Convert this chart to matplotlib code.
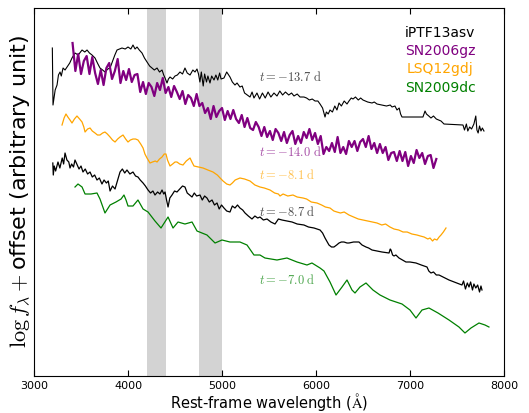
import numpy as np
import matplotlib
matplotlib.use("Agg")
import matplotlib.pyplot as plt

plt.rcParams['mathtext.fontset'] = 'cm'

# iPTF13asv, t = -13.7 d (top black)
w_a1 = [3195, 3202, 3225, 3245, 3260, 3277, 3290, 3309, 3330, 3351, 3380, 3404, 3436, 3470, 3511, 3540,
        3564, 3590, 3617, 3649, 3680, 3702, 3730, 3755, 3785, 3809, 3840, 3860, 3883, 3910, 3936, 3970,
        4000, 4030, 4053, 4075, 4096, 4120, 4149, 4175, 4202, 4230, 4255, 4280, 4309, 4335, 4362, 4380,
        4394, 4415, 4430, 4447, 4475, 4500, 4525, 4553, 4580, 4606, 4630, 4660, 4690, 4713, 4734, 4750,
        4765, 4780, 4800, 4815, 4835, 4850, 4872, 4890, 4915, 4935, 4955, 4975, 4990, 5021, 5050, 5085,
        5110, 5138, 5160, 5191, 5215, 5240, 5270, 5298, 5320, 5340, 5372, 5400, 5430, 5460, 5490, 5520,
        5553, 5585, 5615, 5645, 5675, 5710, 5740, 5766, 5800, 5830, 5872, 5900, 5930, 5960, 5990, 6020,
        6043, 6070, 6096, 6110, 6130, 6149, 6175, 6200, 6223, 6245, 6270, 6300, 6330, 6351, 6375, 6394,
        6420, 6450, 6475, 6500, 6550, 6596, 6620, 6649, 6702, 6750, 6790, 6809, 6840, 6862, 6885, 6900,
        6915, 7138, 7160, 7175, 7200, 7223, 7250, 7280, 7330, 7362, 7564, 7580, 7600, 7615, 7635, 7655,
        7680, 7700, 7712, 7725, 7740, 7755, 7770, 7787]
f_a1 = [328, 271, 286, 291, 301, 304, 300, 308, 306, 309, 313, 318, 323, 321, 326, 324,
        326, 323, 321, 318, 312, 308, 306, 304, 307, 308, 316, 321, 326, 327, 328, 327,
        329, 327, 331, 327, 329, 326, 323, 318, 314, 310, 308, 306, 308, 304, 306, 301,
        298, 293, 297, 299, 297, 300, 301, 304, 302, 308, 303, 301, 306, 304, 307, 302,
        294, 304, 290, 302, 294, 300, 293, 300, 296, 301, 296, 303, 297, 298, 304, 299,
        294, 291, 293, 289, 290, 283, 281, 279, 284, 278, 283, 277, 283, 278, 284, 279,
        283, 280, 285, 281, 284, 281, 283, 280, 282, 279, 279, 278, 276, 277, 275, 275,
        272, 268, 259, 264, 262, 266, 264, 270, 266, 273, 270, 275, 272, 275, 278, 277,
        279, 276, 278, 276, 274, 273, 274, 272, 271, 270, 271, 269, 270, 266, 268, 262,
        259, 259, 265, 262, 260, 258, 260, 257, 255, 252, 251, 246, 252, 245, 249, 247,
        252, 260, 246, 243, 250, 245, 248, 245]

# SN2006gz, t = -14.0 d (purple, noisy) sampled every 30 A from 3410 A
w_gz = np.arange(3410, 7281, 30)
f_gz = [333, 305, 322, 302, 315, 320, 302, 319, 303, 292,
        306, 291, 308, 313, 297, 305, 317, 293, 305, 296,
        307, 294, 301, 302, 284, 294, 282, 293, 289, 280,
        293, 286, 298, 283, 289, 279, 290, 284, 277, 285,
        272, 281, 278, 270, 282, 270, 273, 263, 268, 257,
        270, 259, 265, 268, 256, 265, 257, 266, 257, 253,
        261, 249, 258, 248, 246, 254, 249, 240, 249, 239,
        245, 236, 247, 243, 235, 244, 233, 241, 245, 232,
        240, 233, 244, 238, 247, 236, 243, 232, 240, 222,
        229, 225, 233, 224, 239, 223, 229, 222, 235, 229,
        235, 225, 234, 237, 229, 240, 227, 233, 223, 232,
        223, 229, 216, 223, 224, 215, 225, 215, 224, 210,
        220, 213, 226, 218, 223, 212, 220, 221, 208, 217]

# LSQ12gdj, t = -8.1 d (orange)
w_lsq = [3298, 3320, 3340, 3360, 3383, 3404, 3430, 3457, 3485, 3511, 3530, 3543, 3570, 3596, 3620, 3649,
         3675, 3702, 3730, 3755, 3780, 3809, 3835, 3862, 3890, 3915, 3947, 3975, 4000, 4025, 4053, 4080,
         4106, 4135, 4160, 4180, 4202, 4234, 4260, 4290, 4309, 4335, 4362, 4385, 4404, 4420, 4447, 4475,
         4500, 4521, 4550, 4585, 4620, 4660, 4680, 4702, 4750, 4798, 4850, 4904, 4950, 4980, 5011, 5050,
         5085, 5110, 5140, 5191, 5240, 5298, 5350, 5404, 5450, 5511, 5560, 5600, 5617, 5650, 5700, 5755,
         5800, 5862, 5900, 5950, 6011, 6060, 6100, 6149, 6190, 6223, 6260, 6300, 6351, 6400, 6450, 6500,
         6550, 6600, 6649, 6700, 6740, 6787, 6830, 6880, 6926, 6970, 7020, 7074, 7110, 7150, 7190, 7213,
         7240, 7260, 7287, 7310, 7330, 7355, 7383]
f_lsq = [251, 258, 262, 259, 256, 253, 257, 260, 257, 254, 249, 244, 247, 248, 245, 243,
         241, 241, 243, 244, 242, 239, 236, 234, 237, 239, 241, 237, 234, 236, 237, 237,
         236, 232, 228, 222, 218, 213, 214, 215, 214, 217, 219, 222, 222, 216, 210, 212,
         214, 214, 212, 211, 215, 218, 214, 210, 209, 208, 206, 204, 201, 198, 195, 192,
         191, 193, 196, 198, 197, 195, 191, 189, 188, 186, 183, 182, 180, 182, 180, 181,
         179, 178, 177, 174, 173, 171, 169, 168, 165, 164, 163, 164, 161, 159, 157, 156,
         155, 154, 153, 151, 152, 149, 147, 146, 144, 144, 142, 141, 140, 139, 137, 138,
         135, 137, 136, 139, 141, 144, 148]

# iPTF13asv, t = -8.7 d (lower black)
w_a2 = [3200, 3205, 3215, 3230, 3255, 3275, 3300, 3315, 3330, 3350, 3370, 3383, 3400, 3420, 3436, 3455,
        3479, 3500, 3521, 3545, 3570, 3596, 3620, 3645, 3670, 3695, 3723, 3745, 3770, 3790, 3809, 3835,
        3862, 3890, 3915, 3940, 3965, 3989, 4020, 4053, 4080, 4106, 4130, 4160, 4185, 4213, 4240, 4265,
        4287, 4315, 4340, 4362, 4380, 4394, 4410, 4426, 4445, 4468, 4495, 4521, 4550, 4580, 4606, 4630,
        4655, 4681, 4705, 4730, 4766, 4790, 4815, 4840, 4865, 4894, 4920, 4947, 4970, 4995, 5021, 5050,
        5085, 5110, 5138, 5165, 5191, 5220, 5245, 5280, 5319, 5350, 5380, 5404, 5440, 5479, 5520, 5564,
        5600, 5638, 5690, 5745, 5800, 5872, 5920, 5979, 6043, 6070, 6096, 6120, 6138, 6165, 6191, 6220,
        6245, 6270, 6298, 6330, 6351, 6400, 6457, 6490, 6532, 6560, 6596, 6650, 6702, 6777, 6790, 6798,
        6815, 6830, 6850, 6883, 6920, 6957, 7000, 7064, 7120, 7181, 7200, 7223, 7250, 7280, 7309, 7415,
        7553, 7570, 7590, 7610, 7628, 7645, 7665, 7680, 7700, 7720, 7740, 7755, 7766]
f_a2 = [213, 201, 210, 205, 214, 208, 218, 212, 223, 216, 214, 208, 212, 209, 216, 212,
        207, 210, 204, 207, 202, 204, 199, 201, 196, 198, 192, 196, 193, 195, 185, 190,
        187, 196, 204, 207, 203, 206, 202, 204, 200, 199, 196, 193, 190, 186, 183, 185,
        181, 184, 182, 186, 182, 184, 176, 169, 178, 181, 185, 184, 187, 190, 189, 183,
        181, 179, 183, 180, 181, 176, 180, 178, 174, 176, 171, 173, 167, 171, 168, 165,
        164, 170, 168, 171, 168, 166, 163, 160, 157, 160, 158, 159, 156, 157, 154, 152,
        157, 156, 155, 154, 152, 151, 149, 148, 146, 143, 138, 134, 131, 129, 129, 131,
        133, 134, 134, 133, 133, 134, 134, 131, 129, 128, 126, 125, 124, 123, 127, 126,
        121, 120, 121, 118, 116, 114, 114, 113, 111, 109, 105, 103, 104, 101, 101, 96,
        91, 95, 87, 93, 89, 94, 86, 92, 88, 91, 84, 90, 86]

# SN2009dc, t = -7.0 d (green)
w_dc = [3436, 3468, 3511, 3543, 3606, 3670, 3702, 3755, 3809, 3872, 3926, 3957, 3979, 4000, 4053, 4106,
        4160, 4213, 4287, 4351, 4426, 4479, 4532, 4606, 4681, 4734, 4840, 4926, 5000, 5085, 5191, 5266,
        5340, 5404, 5457, 5585, 5691, 5798, 5904, 5957, 6043, 6085, 6149, 6213, 6277, 6330, 6383, 6415,
        6468, 6532, 6606, 6681, 6787, 6915, 7000, 7064, 7128, 7202, 7298, 7415, 7521, 7585, 7649, 7734,
        7798, 7840]
f_dc = [189, 192, 189, 182, 182, 183, 177, 163, 171, 174, 177, 181, 176, 170, 170, 176,
        167, 164, 155, 148, 159, 148, 154, 152, 154, 145, 141, 133, 136, 134, 134, 131,
        121, 121, 118, 116, 118, 114, 111, 113, 108, 105, 94, 81, 89, 96, 86, 83,
        89, 93, 86, 81, 76, 72, 66, 58, 66, 68, 63, 56, 49, 43, 48, 53,
        51, 49]

names = ['iPTF13asv', 'SN2006gz', 'LSQ12gdj', 'SN2009dc']
name_colors = ['black', 'purple', 'orange', 'green']
epochs = ['-13.7', '-14.0', '-8.1', '-8.7', '-7.0']
epoch_colors = ['black', 'purple', 'orange', 'black', 'green']
epoch_y = [299, 224, 201, 164, 96]

fig = plt.figure(figsize=(5.29, 4.13), dpi=100)
ax = fig.add_axes([0.0643, 0.0896, 0.8884, 0.891])

ax.axvspan(4200, 4400, color='lightgray', lw=0, zorder=0)
ax.axvspan(4750, 5000, color='lightgray', lw=0, zorder=0)

ax.plot(w_a1, f_a1, color='black', lw=0.8)
ax.plot(w_gz, f_gz, color='purple', lw=1.6)
ax.plot(w_lsq, f_lsq, color='orange', lw=0.9)
ax.plot(w_a2, f_a2, color='black', lw=0.9)
ax.plot(w_dc, f_dc, color='green', lw=0.9)

for ep, c, y in zip(epochs, epoch_colors, epoch_y):
    ax.text(5394, y, r'$t=%s\ \mathrm{d}$' % ep, color=c, alpha=0.7,
            fontsize=9, va='center', ha='left')

for i, (n, c) in enumerate(zip(names, name_colors)):
    ax.text(0.864, 0.932 - 0.0495 * i, n, color=c, fontsize=10, ha='center', va='center',
            transform=ax.transAxes)

ax.set_xlim(3000, 8000)
ax.set_ylim(0, 368)
ax.set_xticks([3000, 4000, 5000, 6000, 7000, 8000])
ax.set_yticks([])
ax.tick_params(axis='x', direction='in', top=True, length=4, labelsize=8)
ax.set_xlabel(r'Rest-frame wavelength ($\mathrm{\AA}$)', fontsize=10.5, labelpad=0)
ax.set_ylabel(r'$\log f_\lambda+$offset (arbitrary unit)', fontsize=16, labelpad=1)

fig.savefig('out.png', dpi=100)
